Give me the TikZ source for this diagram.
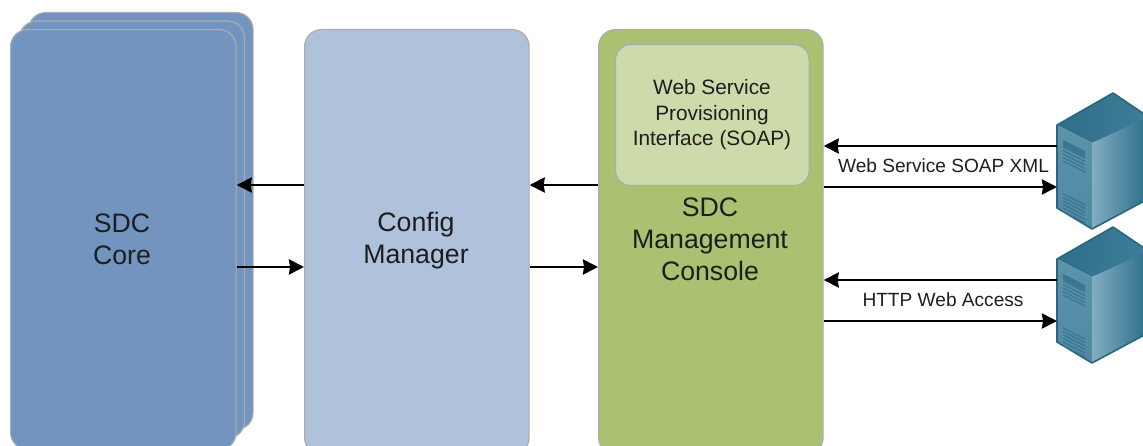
\documentclass[tikz,border=0pt]{standalone}
\usepackage{fontspec}
\setmainfont{Liberation Sans}
\usetikzlibrary{arrows.meta,shapes.geometric}
\definecolor{coreblue}{HTML}{7294BF}
\definecolor{cfgblue}{HTML}{AFC1DB}
\definecolor{consgreen}{HTML}{ABC172}
\definecolor{ifacegreen}{HTML}{CDDAAA}
\definecolor{edgegrey}{HTML}{A9ADB2}
\definecolor{txt}{HTML}{1E1E1E}
\definecolor{srvline}{HTML}{2A6680}
\definecolor{srvtopa}{HTML}{2F6E89}
\definecolor{srvtopb}{HTML}{3F7E98}
\definecolor{srvfronta}{HTML}{5C93AB}
\definecolor{srvfrontb}{HTML}{4F89A2}
\definecolor{srvrighta}{HTML}{82ADC1}
\definecolor{srvrightb}{HTML}{2E7089}
\definecolor{srvvent}{HTML}{3A7690}
\tikzset{
  panel/.style={rectangle,rounded corners=17pt,draw=edgegrey,line width=1.2pt,inner sep=0pt,anchor=north west},
  corebox/.style={panel,fill=coreblue,minimum width=225pt,minimum height=417pt},
  cfgbox/.style={panel,fill=cfgblue,minimum width=224.5pt,minimum height=425pt},
  consbox/.style={panel,fill=consgreen,minimum width=224.5pt,minimum height=425pt},
  ifacebox/.style={panel,fill=ifacegreen,rounded corners=15pt,minimum width=193.5pt,minimum height=141pt},
  bigtext/.style={text=txt,font=\fontsize{26.7}{32}\selectfont,align=center},
  midtext/.style={text=txt,font=\fontsize{20.8}{25.5}\selectfont,align=center},
  smalltext/.style={text=txt,font=\fontsize{19.1}{23}\selectfont,align=center},
  conn/.style={draw=black,line width=2.7pt,-{Stealth[length=15pt,width=15pt,inset=1pt]}},
  srvframe/.style={rectangle,inner sep=0pt,anchor=north west,minimum width=91pt,minimum height=136pt},
  srvedge/.style={draw=srvline,line width=1.6pt,line join=round},
  vent/.style={draw=srvvent,line width=1.2pt}
}
\newcommand{\serverdraw}{%
  \shade[left color=srvtopa,right color=srvtopb] (1057,125) -- (1113,93) -- (1150,118) -- (1092,143) -- cycle;
  \shade[top color=srvfronta,bottom color=srvfrontb] (1057,125) -- (1092,143) -- (1092,229) -- (1057,208) -- cycle;
  \shade[left color=srvrighta,right color=srvrightb] (1092,143) -- (1146,118) -- (1146,200) -- (1092,229) -- cycle;
  \draw[srvedge] (1150,118) -- (1113,93) -- (1057,125) -- (1057,208) -- (1092,229) -- (1150,198);
  \fill[srvvent] (1063,140) -- (1085,151) -- (1085,157) -- (1063,146) -- cycle;
  \foreach \d in {0,3.5,7,10.5,14}{\draw[vent] (1063,147+\d) -- (1085,158+\d);}
  \foreach \d in {0,3.5,7,10.5,14,17.5}{\draw[vent] (1063,194+\d) -- (1085,205+\d);}
}
\begin{document}
\begin{tikzpicture}[x=1pt,y=-1pt]
\useasboundingbox (0,0) rectangle (1143,446);
\clip (0,0) rectangle (1143,446);
% stacked core
\node[corebox,minimum width=224.5pt] (coreb) at (28,12) {};
\node[corebox,minimum width=225pt] (corem) at (19,20.5) {};
\node[corebox,minimum width=225.5pt,minimum height=420pt] (core) at (10,29) {};
\node[bigtext] (coret) at (122,239) {SDC\\Core};
% config
\node[cfgbox] (cfg) at (304,29) {};
\node[bigtext] (cfgt) at (416,241) {Config\\Manager};
% console
\node[consbox] (cons) at (598,29) {};
\node[ifacebox] (iface) at (615,44) {};
\node[midtext] (ifacet) at (712,115) {Web Service\\Provisioning\\Interface (SOAP)};
\node[bigtext] (const) at (710,239.5) {SDC\\Management\\Console};
% servers
\node[srvframe] (srva) at (1057,93) {};
\node[srvframe] (srvb) at (1057,227) {};
\serverdraw
\begin{scope}[shift={(0,134)}]\serverdraw\end{scope}
% connectors
\draw[conn] (cfg.west |- 0,185) -- (core.east |- 0,185);
\draw[conn] (core.east |- 0,267) -- (cfg.west |- 0,267);
\draw[conn] (cons.west |- 0,185) -- (cfg.east |- 0,185);
\draw[conn] (cfg.east |- 0,267) -- (cons.west |- 0,267);
\draw[conn] (srva.west |- 0,146) -- (cons.east |- 0,146);
\draw[conn] (cons.east |- 0,187) -- (srva.west |- 0,187);
\draw[conn] (srvb.west |- 0,280) -- (cons.east |- 0,280);
\draw[conn] (cons.east |- 0,321) -- (srvb.west |- 0,321);
\node[smalltext] (lab1) at (943.5,166) {Web Service SOAP XML};
\node[smalltext] (lab2) at (943,300) {HTTP Web Access};
\end{tikzpicture}
\end{document}
